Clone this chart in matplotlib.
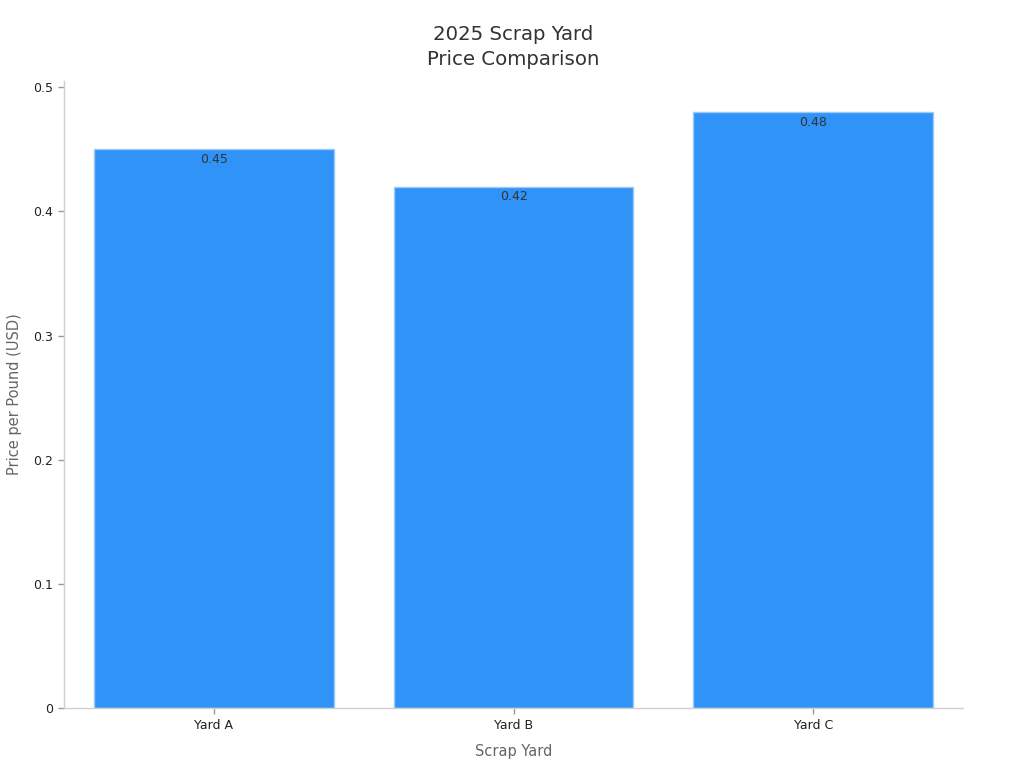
import matplotlib

matplotlib.use("Agg")
import matplotlib.pyplot as plt

# --- data ---
yards = ["Yard A", "Yard B", "Yard C"]
prices = [0.45, 0.42, 0.48]
y_ticks = [0, 0.1, 0.2, 0.3, 0.4, 0.5]
y_tick_labels = ["0", "0.1", "0.2", "0.3", "0.4", "0.5"]

BAR_COLOR = "#2F93F8"
EDGE_COLOR = "#9CCBFA"
SPINE_COLOR = "#D0D0D0"

plt.rcParams["font.family"] = ["DejaVu Sans"]

fig = plt.figure(figsize=(10.24, 7.68), dpi=100)
ax = fig.add_axes([0.0625, 0.0781, 0.878, 0.8164])

x = list(range(len(yards)))
bars = ax.bar(x, prices, width=0.8, color=BAR_COLOR, edgecolor=EDGE_COLOR, linewidth=1)

for rect, val in zip(bars, prices):
    ax.annotate(
        f"{val:.2f}",
        xy=(rect.get_x() + rect.get_width() / 2, rect.get_height()),
        xytext=(0, -2.5),
        textcoords="offset points",
        ha="center",
        va="top",
        fontsize=9,
        color="#333333",
    )

ax.set_xlim(-0.5, 2.5)
ax.set_ylim(0, 0.505)
ax.set_xticks(x)
ax.set_xticklabels(yards, fontsize=9, color="#222222")
ax.set_yticks(y_ticks)
ax.set_yticklabels(y_tick_labels, fontsize=9, color="#222222")

ax.tick_params(axis="both", length=4, width=1, color="#999999", pad=4)

for side in ("top", "right"):
    ax.spines[side].set_visible(False)
for side in ("left", "bottom"):
    ax.spines[side].set_color(SPINE_COLOR)
    ax.spines[side].set_linewidth(1)

ax.set_xlabel("Scrap Yard", fontsize=10.5, color="#666666", labelpad=8.5)
ax.set_ylabel("Price per Pound (USD)", fontsize=10.5, color="#666666", labelpad=8)
ax.set_title("2025 Scrap Yard\nPrice Comparison", fontsize=14.2, color="#333333",
             pad=11.5, linespacing=1.4)

fig.savefig("out.png", dpi=100)
plt.close(fig)
